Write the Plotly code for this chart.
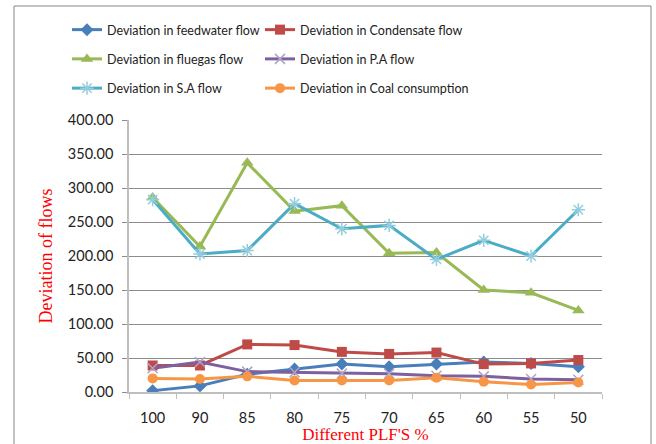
import plotly.graph_objects as go

categories = ["100", "90", "85", "80", "75", "70", "65", "60", "55", "50"]
feedwater = [2, 9, 26, 34, 41, 37, 41, 44, 42, 37]
condensate = [39, 39, 70, 69, 59, 56, 58, 41, 42, 47]
fluegas = [286, 214, 337, 266, 274, 204, 205, 150, 146, 120]
pa_flow = [35, 44, 30, 29, 27, 27, 24, 23, 19, 18]
sa_flow = [283, 203, 208, 277, 240, 245, 195, 223, 200, 268]
coal = [20, 19, 23, 17, 17, 17, 21, 15, 11, 14]

names = ["Deviation in feedwater flow", "Deviation in Condensate flow",
         "Deviation in fluegas flow", "Deviation in P.A flow",
         "Deviation in S.A flow", "Deviation in Coal consumption"]

series = [
    (feedwater, "#4A7EBB", dict(symbol="diamond", size=10, color="#4A7EBB"), "legend"),
    (condensate, "#BE4B48", dict(symbol="square", size=10, color="#BE4B48"), "legend2"),
    (fluegas, "#98B954", dict(symbol="triangle-up", size=11, color="#98B954"), "legend"),
    (pa_flow, "#7D60A0", dict(symbol="x-thin-open", size=10, color="#B3A2C7",
                              line=dict(width=1.5, color="#B3A2C7")), "legend2"),
    (sa_flow, "#4BACC6", dict(symbol="asterisk-open", size=11, color="#93CDDD",
                              line=dict(width=1.5, color="#93CDDD")), "legend"),
    (coal, "#F79646", dict(symbol="circle", size=10, color="#F79646"), "legend2"),
]

fig = go.Figure()
for i, ((vals, col, mk, lg), nm) in enumerate(zip(series, names)):
    fig.add_trace(go.Scatter(x=categories, y=vals, name=nm, mode="lines+markers",
                             line=dict(color=col, width=3), marker=mk,
                             legend=lg, legendgroup="g%d" % i))

L, R, T, B = 129, 54, 120, 52
W, H = 656, 444
pw, ph = W - L - R, H - T - B

def px(x):
    return (x - L) / pw

def py(y):
    return (H - B - y) / ph

leg_common = dict(orientation="v", xanchor="left", yanchor="top",
                  xref="paper", yref="paper", bgcolor="rgba(0,0,0,0)",
                  font=dict(size=12.5, color="#222222"),
                  itemwidth=30, tracegroupgap=10)

fig.update_layout(
    width=W, height=H,
    margin=dict(l=L, r=R, t=T, b=B, autoexpand=False),
    paper_bgcolor="white", plot_bgcolor="white",
    font=dict(family="Lato", size=14, color="#222222"),
    showlegend=True,
    legend=dict(x=px(67), y=py(15), **leg_common),
    legend2=dict(x=px(260), y=py(15), **leg_common),
    xaxis=dict(type="category", tickson="boundaries", ticks="outside", ticklen=5,
               tickcolor="#BFBFBF", showline=True, linecolor="#BFBFBF", linewidth=1.5,
               showgrid=False, range=[-0.5, 9.5], ticklabelstandoff=12,
               tickfont=dict(size=14.5, color="#222222"),
               title=dict(text="Different PLF'S %", standoff=0,
                          font=dict(family="Liberation Serif", size=17, color="red"))),
    yaxis=dict(range=[0, 400], dtick=50, tickformat=".2f", ticks="outside", ticklen=5,
               tickcolor="#8C8C8C", showline=True, linecolor="#BFBFBF", linewidth=1.5,
               showgrid=True, gridcolor="#8C8C8C", gridwidth=1, ticklabelstandoff=6,
               zeroline=False, tickfont=dict(size=14.5, color="#222222"),
               title=dict(text="Deviation of flows", standoff=11,
                          font=dict(family="Liberation Serif", size=18, color="red"))),
    shapes=[dict(type="rect", xref="paper", yref="paper",
                 x0=px(14), x1=px(651), y0=py(6), y1=py(470),
                 line=dict(color="#868686", width=1), layer="below")],
)

fig.write_html("out.html")
